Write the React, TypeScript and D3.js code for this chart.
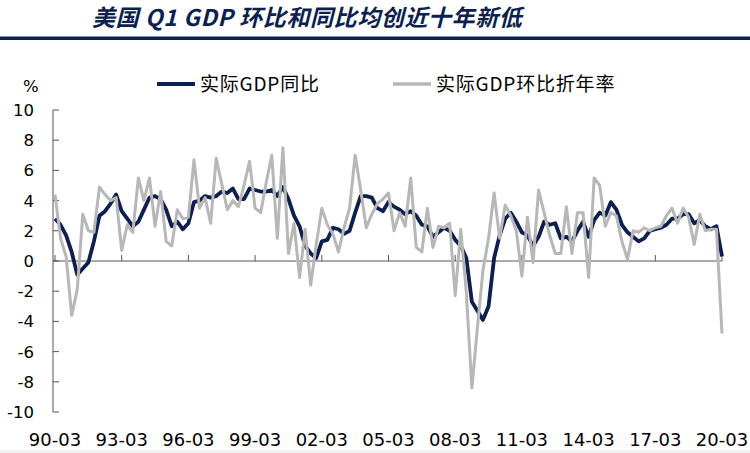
import { useEffect, useRef } from 'react';
import * as d3 from 'd3';

// 实际GDP同比 (%), 1990Q1 - 2020Q1
const yoy = [
  2.8, 2.4, 1.7, 0.6,
  -0.9, -0.5, -0.1, 1.3,
  3.0, 3.3, 3.8, 4.4,
  3.3, 2.8, 2.3, 2.6,
  3.4, 4.2, 4.3, 4.1,
  3.4, 2.3, 2.6, 2.1,
  2.5, 3.9, 4.0, 4.3,
  4.2, 4.3, 4.6, 4.5,
  4.8, 4.1, 4.1, 4.8,
  4.7, 4.6, 4.6, 4.7,
  4.3, 4.9, 4.1, 3.0,
  2.3, 1.0, 0.5, 0.2,
  1.3, 1.4, 2.2, 2.1,
  1.8, 2.0, 3.2, 4.3,
  4.3, 4.2, 3.5, 3.3,
  3.9, 3.6, 3.4, 3.1,
  3.3, 3.0, 2.4, 2.3,
  1.6, 1.9, 2.2, 2.0,
  1.4, 1.0, 0.2, -2.7,
  -3.3, -3.9, -3.0, 0.2,
  1.7, 2.8, 3.2, 2.6,
  1.9, 1.7, 1.0, 1.6,
  2.6, 2.4, 2.5, 1.5,
  1.6, 1.3, 2.0, 2.6,
  1.6, 2.7, 3.2, 3.0,
  3.9, 3.4, 2.4, 1.9,
  1.6, 1.3, 1.5, 2.0,
  2.1, 2.2, 2.4, 2.8,
  2.8, 3.1, 3.1, 2.5,
  2.7, 2.3, 2.1, 2.3,
  0.3,
];

// 实际GDP环比折年率 (%)
const qoq = [
  4.4, 1.5, 0.3, -3.6,
  -1.9, 3.1, 2.0, 1.9,
  4.9, 4.4, 4.0, 4.2,
  0.7, 2.4, 1.9, 5.5,
  4.0, 5.5, 2.3, 4.6,
  1.3, 1.0, 3.4, 2.8,
  2.9, 6.7, 3.5, 4.2,
  2.5, 6.8, 5.1, 3.4,
  4.0, 3.6, 5.0, 6.6,
  3.5, 3.2, 5.2, 7.0,
  1.5, 7.5, 0.5, 2.5,
  -1.1, 2.1, -1.6, 1.1,
  3.5, 2.4, 1.8, 0.6,
  2.2, 3.5, 7.0, 4.7,
  2.2, 3.1, 3.8, 4.1,
  4.5, 2.0, 3.2, 2.3,
  5.5, 0.9, 0.6, 3.5,
  0.9, 2.3, 2.2, 2.5,
  -2.3, 2.1, -2.1, -8.4,
  -4.4, -0.6, 1.5, 4.5,
  1.5, 3.7, 3.0, 2.0,
  -1.0, 2.9, -0.1, 4.7,
  3.2, 1.7, 0.5, 0.5,
  3.6, 0.5, 3.2, 3.2,
  -1.1, 5.5, 5.0, 2.3,
  3.2, 3.0, 1.3, 0.1,
  2.0, 1.9, 2.2, 2.0,
  2.2, 2.3, 3.0, 3.5,
  2.5, 3.5, 2.9, 1.1,
  3.1, 2.0, 2.1, 2.1,
  -4.8,
];

const xTickLabels = ['90-03', '93-03', '96-03', '99-03', '02-03', '05-03', '08-03', '11-03', '14-03', '17-03', '20-03'];
const yTicks = [-10, -8, -6, -4, -2, 0, 2, 4, 6, 8, 10];

const NAVY = '#0c1f50';
const GRAY = '#b7b7b7';
const NUM_FONT = '"DejaVu Sans", Verdana, sans-serif';
const CJK_FONT = '"Noto Sans CJK SC", sans-serif';

const GdpChart: React.FC = () => {
  const svgRef = useRef<SVGSVGElement>(null);

  useEffect(() => {
    const width = 750;
    const height = 453;
    const svg = d3.select(svgRef.current);
    svg.selectAll('*').remove();
    svg.attr('width', width).attr('height', height);

    const x = d3.scaleLinear().domain([0, yoy.length - 1]).range([55, 722]);
    const y = d3.scaleLinear().domain([-10, 10]).range([412, 110]);
    const axisX = 53;

    // title + rule
    svg.append('text')
      .attr('x', 92).attr('y', 26)
      .attr('font-family', CJK_FONT)
      .attr('font-style', 'italic')
      .attr('font-weight', 'bold')
      .attr('font-size', 23)
      .attr('letter-spacing', 0.6)
      .attr('fill', NAVY)
      .text('美国 Q1 GDP 环比和同比均创近十年新低');
    svg.append('rect')
      .attr('x', 0).attr('y', 36.5).attr('width', width).attr('height', 3.5)
      .attr('fill', NAVY);
    svg.append('rect')
      .attr('x', 0).attr('y', 450).attr('width', width).attr('height', 3)
      .attr('fill', '#eef1f6');

    // y axis
    svg.append('line')
      .attr('x1', axisX).attr('x2', axisX)
      .attr('y1', y(10)).attr('y2', y(-10))
      .attr('stroke', '#555').attr('stroke-width', 1);
    yTicks.forEach(t => {
      svg.append('line')
        .attr('x1', axisX).attr('x2', axisX + 6)
        .attr('y1', y(t)).attr('y2', y(t))
        .attr('stroke', '#555').attr('stroke-width', 1);
      svg.append('text')
        .attr('x', 34).attr('y', y(t) + 6)
        .attr('text-anchor', 'end')
        .attr('font-family', NUM_FONT)
        .attr('font-size', 16.5)
        .attr('fill', '#000')
        .text(t);
    });
    svg.append('text')
      .attr('x', 23).attr('y', 92)
      .attr('font-family', NUM_FONT)
      .attr('font-size', 16.5)
      .text('%');

    // x axis at zero
    svg.append('line')
      .attr('x1', axisX).attr('x2', x(yoy.length - 1))
      .attr('y1', y(0)).attr('y2', y(0))
      .attr('stroke', '#555').attr('stroke-width', 1);
    xTickLabels.forEach((lab, i) => {
      const xi = x(i * 12);
      svg.append('line')
        .attr('x1', xi).attr('x2', xi)
        .attr('y1', y(0)).attr('y2', y(0) - 6)
        .attr('stroke', '#555').attr('stroke-width', 1);
      svg.append('text')
        .attr('x', xi).attr('y', 446)
        .attr('text-anchor', 'middle')
        .attr('font-family', NUM_FONT)
        .attr('font-size', 18)
        .attr('fill', '#000')
        .text(lab);
    });

    const line = d3.line<number>()
      .x((_, i) => x(i))
      .y(d => y(d));

    svg.append('path')
      .attr('d', line(yoy) as string)
      .attr('fill', 'none')
      .attr('stroke', NAVY)
      .attr('stroke-width', 3.8)
      .attr('stroke-linejoin', 'round');

    svg.append('path')
      .attr('d', line(qoq) as string)
      .attr('fill', 'none')
      .attr('stroke', GRAY)
      .attr('stroke-width', 3)
      .attr('stroke-linejoin', 'round');

    // legend
    const legend = [
      { label: '实际GDP同比', color: NAVY, w: 4, x0: 157 },
      { label: '实际GDP环比折年率', color: GRAY, w: 3.5, x0: 393 },
    ];
    legend.forEach(l => {
      svg.append('line')
        .attr('x1', l.x0).attr('x2', l.x0 + 38)
        .attr('y1', 84).attr('y2', 84)
        .attr('stroke', l.color).attr('stroke-width', l.w);
      svg.append('text')
        .attr('x', l.x0 + 43).attr('y', 91)
        .attr('font-family', CJK_FONT)
        .attr('font-size', 19)
        .attr('letter-spacing', 0.8)
        .attr('fill', '#000')
        .text(l.label);
    });
  }, []);

  return <svg ref={svgRef} style={{ position: 'absolute', left: 0, top: 0, background: '#fff' }}></svg>;
};

export default function App() {
  return <GdpChart />;
}
